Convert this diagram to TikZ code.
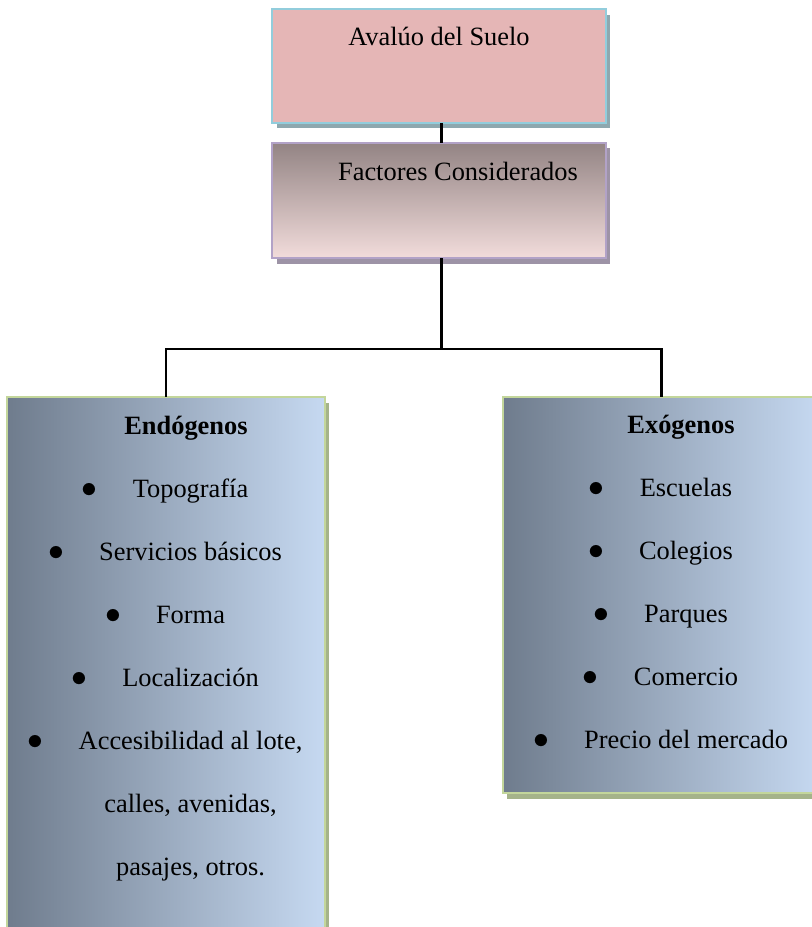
\documentclass[tikz,border=0pt]{standalone}
\usepackage{fontspec}
\setmainfont{Liberation Serif}
\usetikzlibrary{shadows}
\definecolor{suelofill}{HTML}{E5B6B6}
\definecolor{suelolinea}{HTML}{92CDDC}
\definecolor{sueloshadow}{HTML}{8EA8AF}
\definecolor{factortop}{HTML}{938484}
\definecolor{factorbottom}{HTML}{F2DCDB}
\definecolor{factorlinea}{HTML}{B2A2C7}
\definecolor{factorshadow}{HTML}{9D93A6}
\definecolor{grupoleft}{HTML}{6F7C8D}
\definecolor{gruporight}{HTML}{C6D9F1}
\definecolor{grupolinea}{HTML}{C3D69B}
\definecolor{gruposhadow}{HTML}{A5B38A}
\newcommand{\vineta}{{\fontsize{14}{14}\selectfont$\bullet$}\hspace{16pt}}

\begin{document}
\begin{tikzpicture}[x=0.4545pt, y=-0.4545pt,
  every node/.style={font=\fontsize{12}{14}\selectfont, inner sep=0pt},
  caja/.style={rectangle, line width=0.9pt, outer sep=0pt},
  suelobox/.style={caja, draw=suelolinea, fill=suelofill,
    minimum width=151.4pt, minimum height=51.8pt,
    drop shadow={shadow xshift=2pt, shadow yshift=-2.5pt, opacity=1, fill=sueloshadow}},
  factorbox/.style={caja, draw=factorlinea, top color=factortop, bottom color=factorbottom,
    minimum width=151.4pt, minimum height=52.3pt,
    drop shadow={shadow xshift=2pt, shadow yshift=-2.5pt, opacity=1, fill=factorshadow}},
  grupobox/.style={caja, draw=grupolinea, left color=grupoleft, right color=gruporight,
    minimum width=144.1pt,
    drop shadow={shadow xshift=2pt, shadow yshift=-2.5pt, opacity=1, fill=gruposhadow}},
  item/.style={anchor=base},
  conector/.style={draw=black, line width=1pt}]

\useasboundingbox (0,0) rectangle (812,927);
\clip (0,0) rectangle (812,927);

% cajas
\node[suelobox] (suelo) at (439,66) {};
\node[factorbox] (factores) at (439,200.5) {};
\node[grupobox, minimum height=246.8pt] (endogenos) at (166,668.5) {};
\node[grupobox, minimum height=180pt] (exogenos) at (661.5,595) {};

% conectores
\coordinate (cruce) at (441.5,349);
\draw[conector] (suelo.south -| cruce) -- (factores.north -| cruce);
\draw[conector] (factores.south -| cruce) -- (cruce);
\draw[conector] (cruce) -| (endogenos.north);
\draw[conector] (cruce) -| (exogenos.north);

% textos
\node[item] (suelotxt) at (439,45) {Avalúo del Suelo};
\node[item] (factorestxt) at (458,180) {Factores Considerados};
\node[item] (endotxt) at (186,434) {\textbf{Endógenos}};
\node[item] (exotxt) at (681,433) {\textbf{Exógenos}};

\foreach \txt [count=\i] in {Topografía, Servicios básicos, Forma, Localización, {Accesibilidad al lote,}}
  \node[item] (endoitem\i) at (165,{434+63*\i}) {\vineta\txt};
\node[item] (endoitem6) at (190.5,812) {calles, avenidas,};
\node[item] (endoitem7) at (190.5,875) {pasajes, otros.};

\foreach \txt [count=\i] in {Escuelas, Colegios, Parques, Comercio, Precio del mercado}
  \node[item] (exoitem\i) at (660.5,{433+63*\i}) {\vineta\txt};

\end{tikzpicture}
\end{document}
